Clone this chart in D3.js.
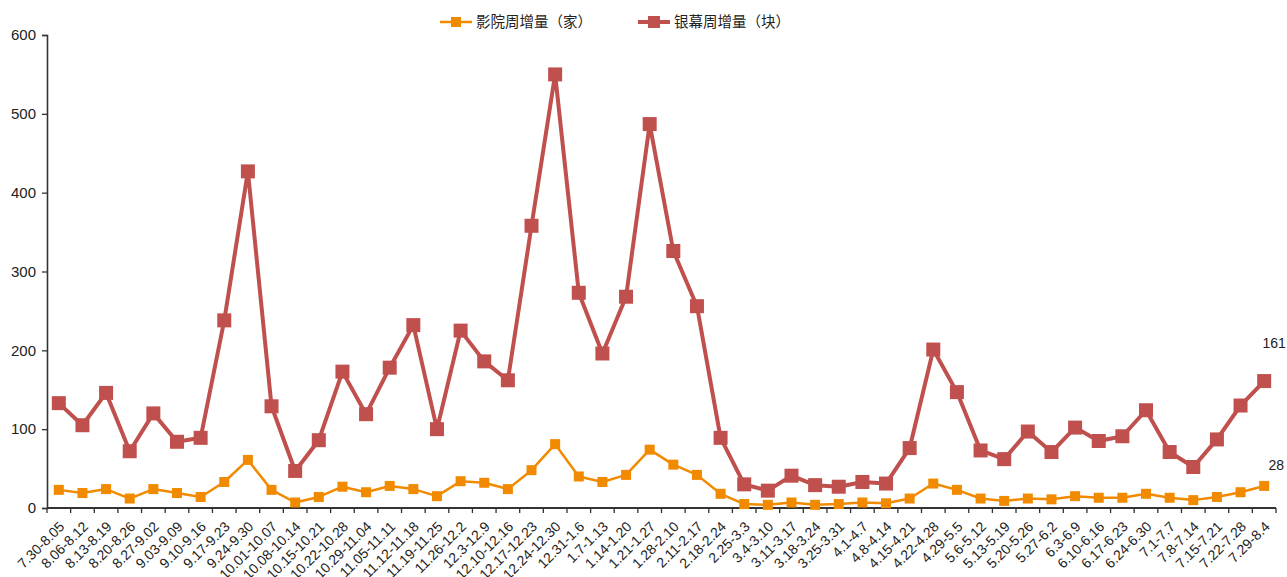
<!DOCTYPE html>
<html>
<head>
<meta charset="utf-8">
<script src="https://cdn.jsdelivr.net/npm/d3@7"></script>
<style>
  html, body { margin: 0; padding: 0; background: #fff; }
  svg { display: block; }
  text { font-family: "Liberation Sans", Arial, "Noto Sans CJK SC", sans-serif; fill: #222; }
</style>
</head>
<body>
<svg id="chart" width="1287" height="577"></svg>
<script>
const categories = ["7.30-8.05","8.06-8.12","8.13-8.19","8.20-8.26","8.27-9.02","9.03-9.09","9.10-9.16","9.17-9.23","9.24-9.30","10.01-10.07","10.08-10.14","10.15-10.21","10.22-10.28","10.29-11.04","11.05-11.11","11.12-11.18","11.19-11.25","11.26-12.2","12.3-12.9","12.10-12.16","12.17-12.23","12.24-12.30","12.31-1.6","1.7-1.13","1.14-1.20","1.21-1.27","1.28-2.10","2.11-2.17","2.18-2.24","2.25-3.3","3.4-3.10","3.11-3.17","3.18-3.24","3.25-3.31","4.1-4.7","4.8-4.14","4.15-4.21","4.22-4.28","4.29-5.5","5.6-5.12","5.13-5.19","5.20-5.26","5.27-6.2","6.3-6.9","6.10-6.16","6.17-6.23","6.24-6.30","7.1-7.7","7.8-7.14","7.15-7.21","7.22-7.28","7.29-8.4"];
const cinemas = [23,19,24,12,24,19,14,33,61,23,7,14,27,20,28,24,15,34,32,24,48,81,40,33,42,74,55,42,18,5,4,7,4,5,7,6,12,31,23,12,9,12,11,15,13,13,18,13,10,14,20,28];
const screens = [133,105,146,72,120,84,89,238,427,129,47,86,173,119,178,232,100,225,186,162,358,550,273,196,268,487,326,256,89,30,22,41,29,27,33,31,76,201,147,73,62,97,71,102,85,91,124,71,52,87,130,161];
const yTicks = [0,100,200,300,400,500,600];
const seriesNames = ["影院周增量（家）","银幕周增量（块）"];
const seriesColors = ["#F28A00","#C0504D"];

(function () {
const svg = d3.select("#chart");
const mLeft = 47, mRight = 1276, mTop = 35, mBottom = 508;

const x = d3.scaleBand().domain(categories).range([mLeft, mRight]).paddingInner(0).paddingOuter(0);
const y = d3.scaleLinear().domain([0, 600]).range([mBottom, mTop]);

// Y axis
const yAxis = svg.append("g").attr("transform", `translate(${mLeft},0)`)
  .call(d3.axisLeft(y).tickValues(yTicks).tickSize(5).tickPadding(6));
yAxis.select(".domain").attr("stroke", "#333").attr("stroke-width", 1.6);
yAxis.selectAll(".tick line").attr("stroke", "#333").attr("stroke-width", 1.3);
yAxis.selectAll(".tick text").style("font-size", "15px").attr("fill", "#222");

// X axis with ticks at boundaries
const xg = svg.append("g");
xg.append("line").attr("x1", mLeft).attr("x2", mRight).attr("y1", mBottom).attr("y2", mBottom)
  .attr("stroke", "#333").attr("stroke-width", 1.8);
const boundaries = categories.map(c => x(c)).concat([x(categories[categories.length-1]) + x.bandwidth()]);
xg.selectAll("line.tk").data(boundaries).enter().append("line")
  .attr("class","tk")
  .attr("x1", d => d).attr("x2", d => d).attr("y1", mBottom).attr("y2", mBottom + 5)
  .attr("stroke", "#333").attr("stroke-width", 1.3);
xg.selectAll("text.xl").data(categories).enter().append("text")
  .attr("class","xl")
  .attr("transform", d => `translate(${x(d) + x.bandwidth()/2 + 3},${mBottom + 16}) rotate(-45)`)
  .attr("text-anchor", "end")
  .attr("dy", "0.35em")
  .style("font-size", "14px")
  .text(d => d);

// Lines
const line = vals => d3.line().x((d, i) => x(categories[i]) + x.bandwidth()/2).y(d => y(d))(vals);

svg.append("path").attr("d", line(screens)).attr("fill", "none")
  .attr("stroke", seriesColors[1]).attr("stroke-width", 4).attr("stroke-linejoin", "round");
svg.append("path").attr("d", line(cinemas)).attr("fill", "none")
  .attr("stroke", seriesColors[0]).attr("stroke-width", 2.5).attr("stroke-linejoin", "round");

svg.selectAll("rect.sm").data(screens).enter().append("rect")
  .attr("class","sm")
  .attr("x", (d, i) => x(categories[i]) + x.bandwidth()/2 - 7)
  .attr("y", d => y(d) - 7).attr("width", 14).attr("height", 14)
  .attr("fill", seriesColors[1]);
svg.selectAll("rect.cm").data(cinemas).enter().append("rect")
  .attr("class","cm")
  .attr("x", (d, i) => x(categories[i]) + x.bandwidth()/2 - 5)
  .attr("y", d => y(d) - 5).attr("width", 10).attr("height", 10)
  .attr("fill", seriesColors[0]);

// End labels
const lastC = categories[categories.length-1];
const lx = x(lastC) + x.bandwidth()/2 + 10;
svg.append("text").attr("x", lx).attr("y", y(screens[screens.length-1]) - 33)
  .attr("text-anchor","middle").style("font-size","14px").text(screens[screens.length-1]);
svg.append("text").attr("x", lx + 2).attr("y", y(cinemas[cinemas.length-1]) - 16)
  .attr("text-anchor","middle").style("font-size","14px").text(cinemas[cinemas.length-1]);

// Legend
const legend = [
  {name: seriesNames[0], color: seriesColors[0], x0: 440, w: 2.5, m: 10},
  {name: seriesNames[1], color: seriesColors[1], x0: 638, w: 4, m: 12}
];
legend.forEach(l => {
  const g = svg.append("g");
  g.append("line").attr("x1", l.x0).attr("x2", l.x0 + 32).attr("y1", 22).attr("y2", 22)
    .attr("stroke", l.color).attr("stroke-width", l.w);
  g.append("rect").attr("x", l.x0 + 16 - l.m/2).attr("y", 22 - l.m/2).attr("width", l.m).attr("height", l.m)
    .attr("fill", l.color);
  g.append("text").attr("x", l.x0 + 36).attr("y", 22).attr("dy","0.35em")
    .style("font-size","14.5px").style("font-family","'Noto Sans CJK SC', sans-serif").attr("fill","#333").text(l.name);
});
})();
</script>
</body>
</html>
